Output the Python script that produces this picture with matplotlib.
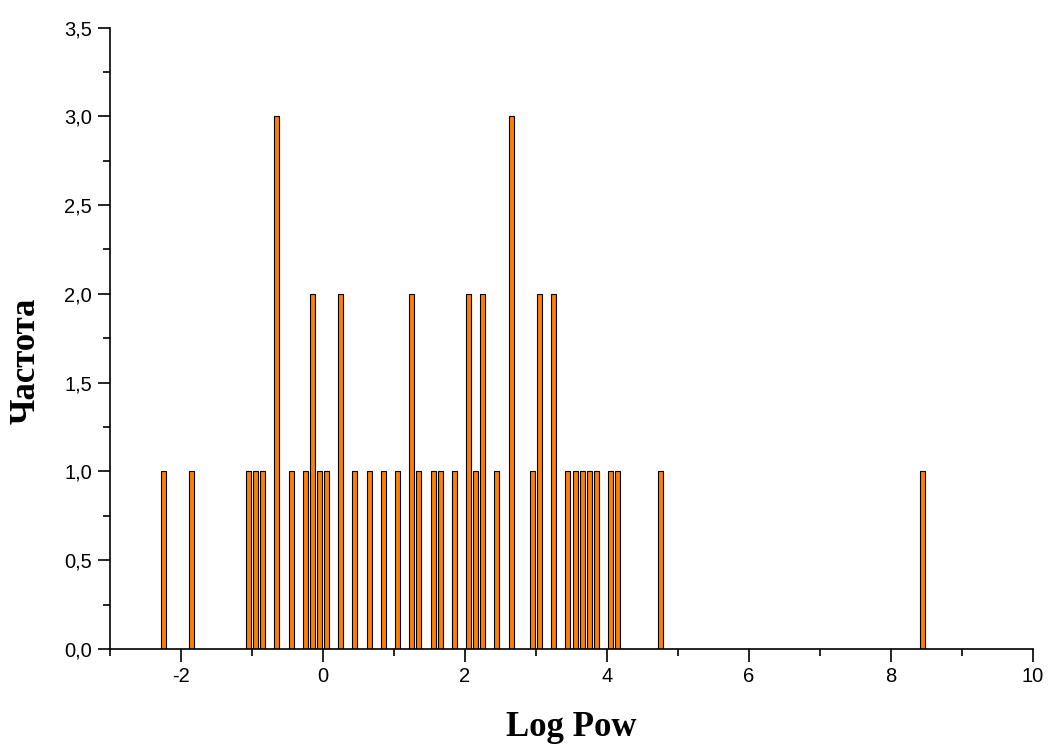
import matplotlib
matplotlib.use("Agg")
import matplotlib.pyplot as plt
from matplotlib.ticker import MultipleLocator, FuncFormatter

# histogram of Log Pow, bin centres and counts
bin_centers = [-2.25, -1.85, -1.05, -0.95, -0.85, -0.65, -0.45, -0.25, -0.15, -0.05,
               0.05, 0.25, 0.45, 0.65, 0.85, 1.05, 1.25, 1.35, 1.55, 1.65,
               1.85, 2.05, 2.15, 2.25, 2.45, 2.65, 2.95, 3.05, 3.25, 3.45,
               3.55, 3.65, 3.75, 3.85, 4.05, 4.15, 4.75, 8.45]
counts = [1, 1, 1, 1, 1, 3, 1, 1, 2, 1,
          1, 2, 1, 1, 1, 1, 2, 1, 1, 1,
          1, 2, 1, 2, 1, 3, 1, 2, 2, 1,
          1, 1, 1, 1, 1, 1, 1, 1]

fig = plt.figure(figsize=(10.48, 7.44), dpi=100)
ax = fig.add_axes([0.105, 0.1277, 0.8807, 0.8353])

ax.bar(bin_centers, counts, width=0.07, color='#FF8000', edgecolor='black', linewidth=0.8)

ax.set_xlim(-3, 10)
ax.set_ylim(0, 3.5)

ax.spines['top'].set_visible(False)
ax.spines['right'].set_visible(False)
for s in ('left', 'bottom'):
    ax.spines[s].set_linewidth(1.2)

ax.xaxis.set_major_locator(MultipleLocator(2))
ax.xaxis.set_minor_locator(MultipleLocator(1))
ax.yaxis.set_major_locator(MultipleLocator(0.5))
ax.yaxis.set_minor_locator(MultipleLocator(0.25))
ax.yaxis.set_major_formatter(FuncFormatter(lambda v, p: ('%.1f' % v).replace('.', ',')))
ax.xaxis.set_major_formatter(FuncFormatter(lambda v, p: '%d' % v))

ax.tick_params(which='major', direction='out', length=9, width=1.2,
               labelsize=14.5, pad=4)
ax.tick_params(which='minor', direction='out', length=5, width=1.2)
for lbl in ax.get_xticklabels() + ax.get_yticklabels():
    lbl.set_fontfamily('Liberation Sans')

ax.set_xlabel('Log Pow', fontfamily='Liberation Serif', fontweight='bold',
              fontsize=25, labelpad=18)
ax.set_ylabel('Частота', fontfamily='Liberation Serif', fontweight='bold',
              fontsize=25)
ax.yaxis.set_label_coords(-0.0735, 0.463)

fig.savefig('out.png', dpi=100)
